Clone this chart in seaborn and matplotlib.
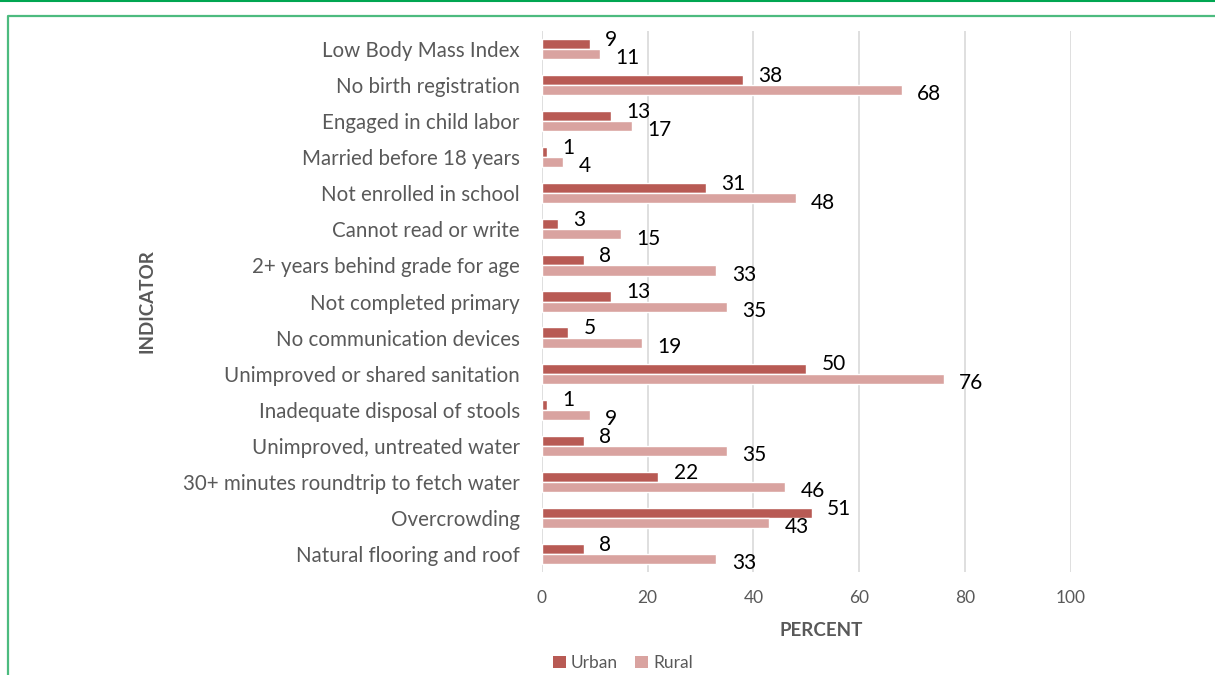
import matplotlib
matplotlib.use("Agg")
import matplotlib.pyplot as plt
from matplotlib.lines import Line2D
from matplotlib.patches import Patch
import seaborn as sns
import pandas as pd

indicators = [
    "Low Body Mass Index",
    "No birth registration",
    "Engaged in child labor",
    "Married before 18 years",
    "Not enrolled in school",
    "Cannot read or write",
    "2+ years behind grade for age",
    "Not completed primary",
    "No communication devices",
    "Unimproved or shared sanitation",
    "Inadequate disposal of stools",
    "Unimproved, untreated water",
    "30+ minutes roundtrip to fetch water",
    "Overcrowding",
    "Natural flooring and roof",
]
urban = [9, 38, 13, 1, 31, 3, 8, 13, 5, 50, 1, 8, 22, 51, 8]
rural = [11, 68, 17, 4, 48, 15, 33, 35, 19, 76, 9, 35, 46, 43, 33]
areas = ["Urban", "Rural"]
x_ticks = [0, 20, 40, 60, 80, 100]

colors = {"Urban": "#B85A54", "Rural": "#D9A3A0"}
grey = "#595959"

df = pd.DataFrame({
    "Indicator": indicators * 2,
    "Area": ["Urban"] * len(indicators) + ["Rural"] * len(indicators),
    "Percent": urban + rural,
})

sns.set_theme(style="white")
plt.rcParams["font.family"] = ["Lato", "DejaVu Sans"]

fig = plt.figure(figsize=(12.15, 6.75), dpi=100)
ax = fig.add_axes([0.446, 0.1526, 0.4354, 0.8014])

sns.barplot(data=df, y="Indicator", x="Percent", hue="Area", order=indicators,
            hue_order=areas, palette=colors, orient="h", width=0.56,
            dodge=True, legend=False, ax=ax, saturation=1)

ax.set_xlim(0, 100)
ax.set_xticks(x_ticks)
ax.set_xticklabels([str(t) for t in x_ticks], color=grey, fontsize=12.5)
ax.tick_params(axis="x", length=0, pad=13)
ax.tick_params(axis="y", length=0, pad=16, labelsize=14.8, labelcolor=grey)
ax.grid(axis="x", color="#D9D9D9", linewidth=1.2)
ax.set_axisbelow(True)
for s in ax.spines.values():
    s.set_visible(False)

ax.set_xlabel("PERCENT", fontsize=13.5, fontweight="bold", color=grey)
ax.xaxis.set_label_coords((821 - 542) / 529, -0.092)
ax.set_ylabel("INDICATOR", fontsize=13.5, fontweight="bold", color=grey)
ax.yaxis.set_label_coords(-0.73, 0.5)

# value labels: urban nudged up, rural nudged down
for container, area in zip(ax.containers, areas):
    dy = 3 if area == "Urban" else -3
    for bar in container:
        w = bar.get_width()
        yc = bar.get_y() + bar.get_height() / 2
        ax.annotate(f"{w:g}", xy=(w, yc), xytext=(11, dy), textcoords="offset points",
                    ha="left", va="center", fontsize=15, color="black")

handles = [Patch(facecolor=colors[a], edgecolor="none") for a in areas]
fig.legend(handles, areas, loc="center", bbox_to_anchor=(623 / 1215, 1 - 663 / 675),
           ncol=2, frameon=False, fontsize=12.5, handlelength=0.75, handleheight=0.75,
           handletextpad=0.3, columnspacing=1.0, labelcolor=grey)

# decorative frame
fig.add_artist(Line2D([0, 1], [1 - 0.8 / 675, 1 - 0.8 / 675], color="#00A651", linewidth=1.5,
                      transform=fig.transFigure))
fig.add_artist(Line2D([8 / 1215, 8 / 1215, 1], [0, 1 - 16 / 675, 1 - 16 / 675],
                      color="#4CBB7F", linewidth=1.6, transform=fig.transFigure))

fig.savefig("out.png", dpi=100)
